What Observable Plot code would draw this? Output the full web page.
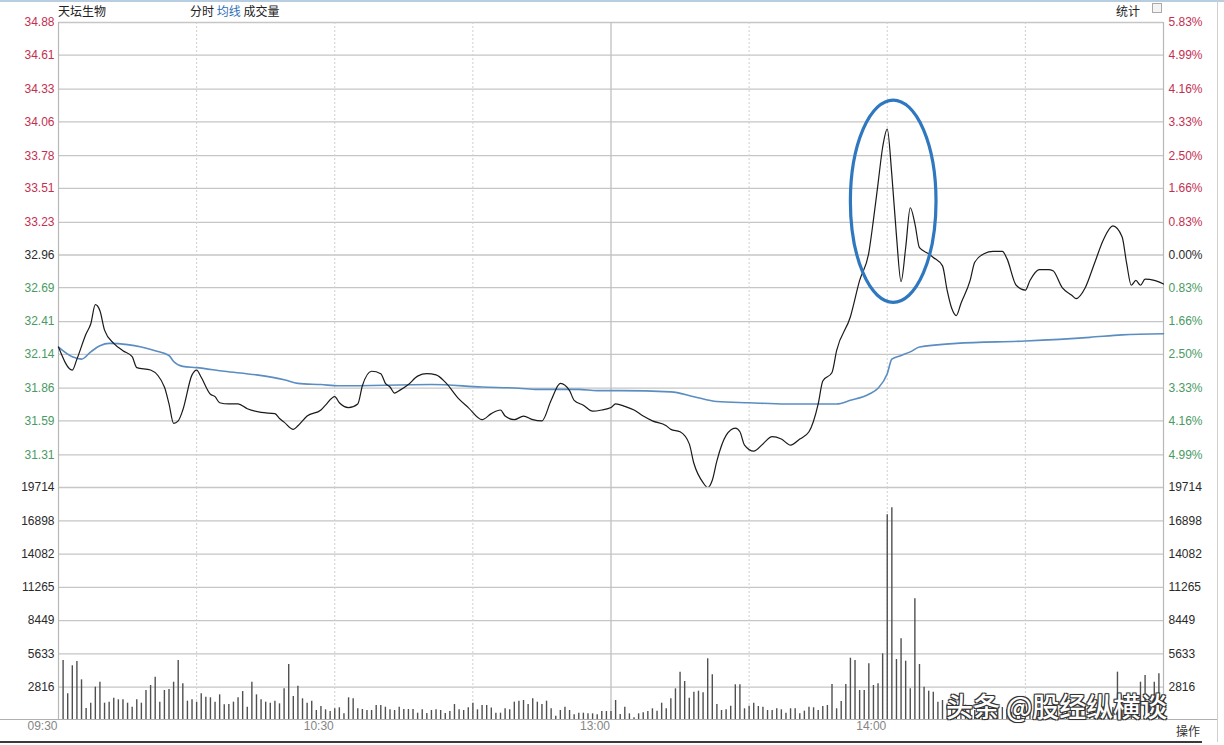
<!DOCTYPE html>
<html><head><meta charset="utf-8">
<script src="https://cdn.jsdelivr.net/npm/d3@7"></script>
<script src="https://cdn.jsdelivr.net/npm/@observablehq/plot@0.6"></script>
<style>
body{margin:0;background:#fff;font-family:"Liberation Sans","Noto Sans CJK SC",sans-serif;}
#wrap{position:relative;width:1224px;height:745px;overflow:hidden;background:#fff;}
.abs{position:absolute;white-space:nowrap;}
.hdr{font-size:12px;color:#222;font-family:"Noto Sans CJK SC","Liberation Sans",sans-serif;line-height:14px;}
</style></head><body><div id="wrap"></div>
<script>
// ---------- data ----------
const prevClose = 32.96;
const priceTicks = [34.88,34.61,34.33,34.06,33.78,33.51,33.23,32.96,32.69,32.41,32.14,31.86,31.59,31.31];
const pctLabels  = ["5.83%","4.99%","4.16%","3.33%","2.50%","1.66%","0.83%","0.00%","0.83%","1.66%","2.50%","3.33%","4.16%","4.99%"];
const volTicks = [19714,16898,14082,11265,8449,5633,2816];
const timeMinutes = [0,60,120,180];
const timeLabels = ["09:30","10:30","13:00","14:00"];
const gridMinutes = [30,60,90,150,180,210];
const sessionBreak = 120;

const priceMinutes = [0,3,4,6,7,8,9,10,12,14,16,17,20,23,24,25,26,27,29,30,31,33,34,35,37,39,41,44,47,48,49,51,52,54,57,58,60,61,63,65,66,68,70,71,72,73,74,76,78,80,82,84,87,89,92,94,96,97,99,101,103,105,107,109,111,112,114,116,118,120,121,123,125,127,129,132,133,135,137,138,140,141,142,143,145,147,148,149,151,153,155,157,159,161,163,165,166,168,169,172,174,176,177,178,179,180,181,182,183,184,185,186,187,189,190,192,193,194,195,196,198,199,201,203,205,206,208,210,211,213,215,216,218,220,221,223,225,227,229,231,232,233,234,235,236,238,240];
const priceValues  = [32.20,32.01,32.10,32.31,32.39,32.55,32.50,32.34,32.23,32.17,32.12,32.03,32.01,31.87,31.73,31.57,31.59,31.68,31.97,32.01,31.95,31.81,31.79,31.74,31.73,31.73,31.69,31.66,31.65,31.61,31.58,31.52,31.55,31.63,31.68,31.72,31.79,31.74,31.70,31.73,31.88,32.00,31.98,31.90,31.87,31.82,31.84,31.89,31.96,31.98,31.97,31.91,31.77,31.70,31.60,31.65,31.68,31.63,31.60,31.63,31.60,31.59,31.76,31.90,31.84,31.76,31.72,31.67,31.68,31.70,31.73,31.71,31.68,31.63,31.59,31.55,31.52,31.50,31.40,31.24,31.08,31.04,31.10,31.26,31.47,31.53,31.50,31.39,31.34,31.40,31.46,31.44,31.39,31.44,31.50,31.73,31.92,31.99,32.17,32.45,32.75,32.98,33.25,33.55,33.85,34.00,33.62,33.12,32.74,33.02,33.35,33.22,33.02,32.97,32.94,32.87,32.67,32.52,32.46,32.56,32.75,32.90,32.97,32.99,32.99,32.93,32.71,32.67,32.75,32.84,32.84,32.83,32.69,32.63,32.60,32.69,32.89,33.09,33.20,33.11,32.89,32.71,32.75,32.71,32.76,32.75,32.72];

const avgMinutes = [0,3,5,7,9,11,15,18,21,24,25,27,30,36,43,49,52,57,61,81,92,100,104,113,117,122,133,138,143,150,158,169,172,176,178,180,181,183,185,187,195,210,224,231,240];
const avgValues  = [32.20,32.12,32.10,32.16,32.21,32.23,32.22,32.20,32.17,32.13,32.08,32.04,32.03,32.00,31.97,31.93,31.90,31.89,31.88,31.89,31.87,31.86,31.85,31.85,31.84,31.84,31.83,31.79,31.75,31.74,31.73,31.73,31.76,31.81,31.86,31.98,32.10,32.13,32.16,32.20,32.23,32.25,32.28,32.30,32.31];

// volume per minute, starting at minute 1 (09:31)
const volumes = [5076,2260,4630,4990,3440,1015,1465,2820,3240,1465,1550,1890,1750,1750,1465,1125,1750,1465,2540,2960,3660,1550,2540,2620,3240,5076,3100,1635,1750,1550,2260,1970,1920,1550,2170,1330,1350,1550,1920,2450,1125,3240,2170,1750,1550,1465,1635,1410,2680,4740,2030,2900,1835,1465,1635,846,1185,905,760,990,1075,565,1920,1835,990,930,846,846,1270,1270,1125,905,846,1125,930,930,930,620,
905,590,846,905,846,590,760,1350,905,846,1075,1465,905,1270,1270,1050,620,620,990,905,1550,1635,1690,1350,1835,1550,1350,1635,990,366,846,1125,846,480,620,620,565,565,480,760,760,760,1690,510,1125,565,225,565,650,760,990,790,1465,990,1835,2680,4090,3300,1890,2400,2480,2340,5220,3870,1350,846,905,1210,3020,3020,990,1210,1465,1185,1125,846,846,990,905,620,990,990,565,790,1125,1075,846,1185,1270,3050,990,
1610,3050,5270,5076,2540,2540,4800,2960,3100,5640,17400,18000,5160,6910,5020,2680,10300,4740,2820,2480,2400,1550,1690,
1400,1250,1100,950,1300,1000,850,900,1200,1050,800,950,1100,900,700,850,1000,1150,900,800,950,1200,1000,850,900,1100,950,800,1000,1250,1100,900,850,1000,1150,950,1100,4090,1200,1300,1000,1400,3240,3810,1500,3240,3950,1800];

// annotation ellipse (data units): centre minute, centre price, half-width in minutes, half-height in price
const ellipseCenterMinute = 181.4, ellipseCenterPrice = 33.40, ellipseHalfMinutes = 9.3, ellipseHalfPrice = 0.835;

// ---------- build ----------
const priceData = priceMinutes.map((m,i)=>({m, p: priceValues[i]}));
const avgData = avgMinutes.map((m,i)=>({m, p: avgValues[i]}));
const volData = volumes.map((v,i)=>({m: i+1, v}));

const RED="#c3304f", GREEN="#4a9a62", DARK="#2a2a2a", GRID="#c6c6c6";
const tickColor = d => d > prevClose + 1e-9 ? RED : (Math.abs(d-prevClose)<1e-9 ? DARK : GREEN);
const W=1224, ML=58, MR=61;
const font = {fontFamily:"'Liberation Sans', Arial, sans-serif", fontSize:"12px", background:"transparent", overflow:"visible"};

const pricePlot = Plot.plot({
  width: W, height: 487, marginTop: 22, marginBottom: 0, marginLeft: ML, marginRight: MR,
  x: {domain:[0,240], axis:null},
  y: {domain:[31.04,34.88], axis:null},
  color: {type:"identity"},
  style: font,
  marks: [
    Plot.ruleY(priceTicks, {stroke: GRID, strokeWidth: 1.3}),
    Plot.ruleX(gridMinutes, {stroke:"#cfcfcf", strokeDasharray:"2,2"}),
    Plot.ruleX([sessionBreak], {stroke:"#c0c0c0", strokeWidth:1.3}),
    Plot.ruleX([0,240], {stroke:"#b8b8b8", strokeWidth:1.2}),
    Plot.text(priceTicks, {y: d=>d, frameAnchor:"left", dx:-4, textAnchor:"end", text: d=>d.toFixed(2), fill: d=>tickColor(d)}),
    Plot.text(priceTicks, {y: d=>d, frameAnchor:"right", dx:5, textAnchor:"start", text:(d,i)=>pctLabels[i], fill: d=>tickColor(d)}),
    Plot.line(avgData, {x:"m", y:"p", stroke:"#5a8dc2", strokeWidth:1.6, curve:"monotone-x"}),
    Plot.line(priceData, {x:"m", y:"p", stroke:"#1a1a1a", strokeWidth:1.2, curve:"monotone-x"})
  ]
});
{
  const sx = pricePlot.scale("x"), sy = pricePlot.scale("y");
  const cx = sx.apply(ellipseCenterMinute), cy = sy.apply(ellipseCenterPrice);
  const rx = sx.apply(ellipseCenterMinute + ellipseHalfMinutes) - cx;
  const ry = sy.apply(ellipseCenterPrice - ellipseHalfPrice) - cy;
  d3.select(pricePlot).append("ellipse")
    .attr("cx", cx).attr("cy", cy).attr("rx", rx).attr("ry", ry)
    .attr("fill","none").attr("stroke","#2f78bf").attr("stroke-width",3.2);
}

const volPlot = Plot.plot({
  width: W, height: 265, marginTop: 7, marginBottom: 25, marginLeft: ML, marginRight: MR,
  x: {domain:[0,240], axis:null},
  y: {domain:[0,19714], axis:null},
  style: font,
  marks: [
    Plot.ruleY(volTicks, {stroke: GRID, strokeWidth: 1.3}),
    Plot.ruleX(gridMinutes, {stroke:"#cfcfcf", strokeDasharray:"2,2"}),
    Plot.ruleX([sessionBreak], {stroke:"#c0c0c0", strokeWidth:1.3}),
    Plot.ruleX([0,240], {stroke:"#b8b8b8", strokeWidth:1.2}),
    Plot.ruleX(volData, {x:"m", y1:0, y2:"v", stroke:"#505050", strokeWidth:1.4}),
    Plot.text(volTicks, {y: d=>d, frameAnchor:"left", dx:-4, textAnchor:"end", text: d=>String(d), fill: DARK}),
    Plot.text(volTicks, {y: d=>d, frameAnchor:"right", dx:5, textAnchor:"start", text: d=>String(d), fill: DARK}),
    Plot.text(timeMinutes, {x: d=>d, frameAnchor:"bottom", dy:9, dx:-1, textAnchor:"end", text:(d,i)=>timeLabels[i], fill:"#858585"})
  ]
});

const wrap = document.getElementById("wrap");
pricePlot.style.position="absolute"; pricePlot.style.left="0px"; pricePlot.style.top="0px";
volPlot.style.position="absolute"; volPlot.style.left="0px"; volPlot.style.top="480px";
wrap.appendChild(pricePlot);
wrap.appendChild(volPlot);

function addDiv(html, css){ const d=document.createElement("div"); d.className="abs"; d.innerHTML=html; Object.assign(d.style, css); wrap.appendChild(d); return d; }
// frame lines
addDiv("", {left:"0px", top:"0px", width:"1224px", height:"2px", background:"#b9cde0"});
addDiv("", {left:"0px", top:"719px", width:"1218px", height:"1px", background:"#b0b0b0"});
addDiv("", {left:"1217px", top:"0px", width:"1px", height:"742px", background:"#cfcfcf"});
addDiv("", {left:"0px", top:"741px", width:"1202px", height:"2px", background:"#3a3a3a"});
// header
addDiv("天坛生物", {left:"58px", top:"4px"}).classList.add("hdr");
addDiv('分时 <span style="color:#2f6fb8">均线</span> 成交量', {left:"190px", top:"4px"}).classList.add("hdr");
addDiv("统计", {left:"1116px", top:"4px"}).classList.add("hdr");
addDiv("", {left:"1152px", top:"3px", width:"8px", height:"8px", border:"1px solid #aaa", background:"#f4f4f4"});
addDiv("操作", {left:"1176px", top:"722px", fontSize:"12px", color:"#333", fontFamily:"'Noto Sans CJK SC',sans-serif"});
// watermark (drawn under the right-hand "2816" label region, slightly lower)
addDiv("头条 @股经纵横谈", {left:"946px", top:"690px", fontSize:"27px", lineHeight:"32px", color:"#fff", fontFamily:"'Noto Sans CJK SC',sans-serif", fontWeight:"500",
  textShadow:"1px 1px 0 #333,-1px -1px 0 #333,1px -1px 0 #333,-1px 1px 0 #333,0 0 2px #000"});
</script></body></html>
